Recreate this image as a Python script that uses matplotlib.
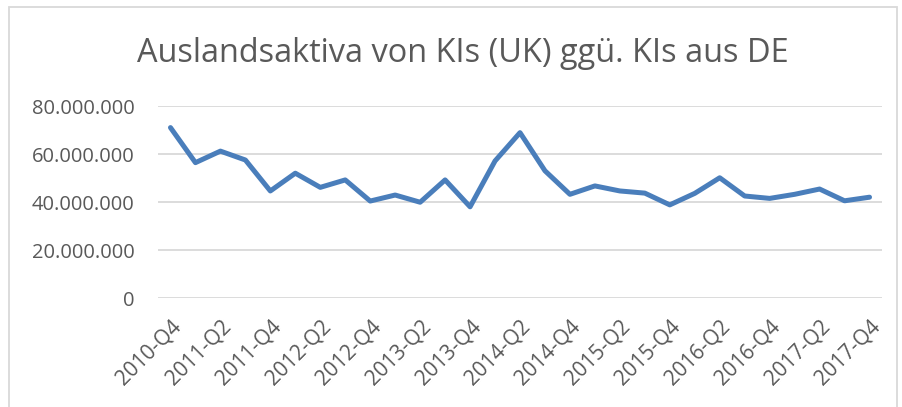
import matplotlib.pyplot as plt
from matplotlib.patches import Rectangle
from matplotlib.ticker import FuncFormatter

# Quartale 2010-Q4 bis 2017-Q4
quarters = []
for year in range(2010, 2018):
    for q in range(1, 5):
        if (year, q) >= (2010, 4):
            quarters.append(f'{year}-Q{q}')

# Werte in Mio.
values_mio = [71.0, 56.4, 61.2, 57.5, 44.6, 52.0, 46.1, 49.2, 40.4, 42.9,
              39.9, 49.2, 38.0, 57.1, 68.9, 53.0, 43.2, 46.7, 44.6, 43.7,
              38.8, 43.6, 50.1, 42.5, 41.5, 43.2, 45.4, 40.5, 42.0]
values = [v * 1e6 for v in values_mio]

y_ticks = [0, 20e6, 40e6, 60e6, 80e6]
title = 'Auslandsaktiva von KIs (UK) ggü. KIs aus DE'

text_color = '#595959'
plt.rcParams['font.family'] = ['Open Sans', 'DejaVu Sans']

my_dpi = 100
fig = plt.figure(figsize=(903 / my_dpi, 407 / my_dpi), dpi=my_dpi)
ax = fig.add_axes([158 / 903, 1 - 298 / 407, 724 / 903, 192 / 407])

x = list(range(len(quarters)))
ax.plot(x, values, color='#4A7EBB', linewidth=3.6, solid_joinstyle='round', solid_capstyle='round')

ax.set_xlim(-0.5, len(quarters) - 0.5)
ax.set_ylim(0, 80e6)
ax.set_yticks(y_ticks)
ax.yaxis.set_major_formatter(FuncFormatter(lambda v, pos: f'{int(v):,}'.replace(',', '.')))
ax.grid(axis='y', color='#D9D9D9', linewidth=1.3)
ax.set_axisbelow(True)
for s in ax.spines.values():
    s.set_visible(False)

ax.set_xticks(x[::2])
ax.set_xticklabels(quarters[::2], rotation=45, ha='right', rotation_mode='anchor')
ax.tick_params(axis='both', length=0, colors=text_color)
ax.tick_params(axis='y', pad=17, labelsize=14.5)
ax.tick_params(axis='x', pad=13, labelsize=15)

fig.text(463 / 903, 1 - 53 / 407, title, ha='center', va='center', fontsize=23.4, color=text_color)

# Rahmen des Diagramms
fig.patches.append(Rectangle((9 / 903, -0.1), 888 / 903, 1.1 - 7 / 407, transform=fig.transFigure,
                             fill=False, edgecolor='#D9D9D9', linewidth=1.3))

plt.savefig('out.png', dpi=my_dpi)
